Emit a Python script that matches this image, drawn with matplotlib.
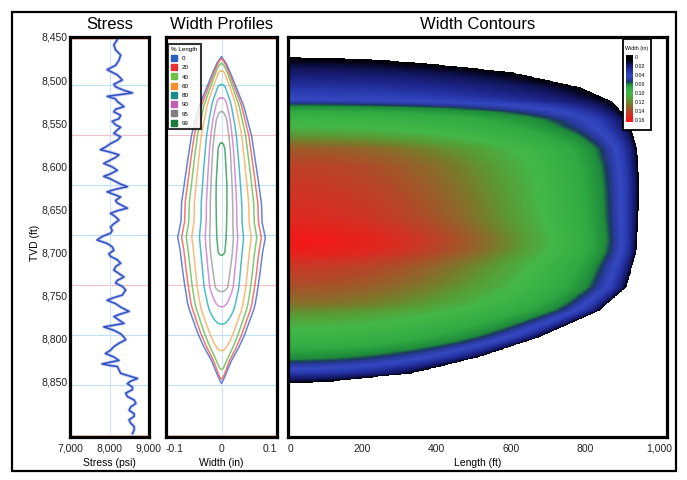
import numpy as np
import matplotlib
matplotlib.use('Agg')
import matplotlib.pyplot as plt
from matplotlib.colors import LinearSegmentedColormap
from matplotlib.patches import Rectangle
from matplotlib.lines import Line2D

plt.rcParams['font.family'] = ['Liberation Sans', 'DejaVu Sans']

# ---------------- data ----------------
depth_ticks = [8450, 8500, 8550, 8600, 8650, 8700, 8750, 8800, 8850]
depth_labels = ['8,450', '8,500', '8,550', '8,600', '8,650', '8,700', '8,750', '8,800', '8,850']

stress_ticks = [7000, 8000, 9000]
stress_labels = ['7,000', '8,000', '9,000']
width_ticks = [-0.1, 0, 0.1]
width_labels = ['-0.1', '0', '0.1']
length_ticks = [0, 200, 400, 600, 800, 1000]
length_labels = ['0', '200', '400', '600', '800', '1,000']

stress_depth = [8453, 8459, 8465, 8471, 8477, 8483, 8488, 8494, 8500, 8505, 8508, 8512, 8515, 8519,
                8522, 8525, 8528, 8531, 8534, 8537, 8541, 8545, 8548, 8552, 8555, 8558, 8562, 8566,
                8570, 8574, 8578, 8581, 8584, 8587, 8590, 8593, 8597, 8601, 8605, 8609, 8612, 8615,
                8618, 8621, 8624, 8627, 8630, 8633, 8636, 8640, 8643, 8646, 8649, 8652, 8655, 8659,
                8663, 8667, 8671, 8675, 8678, 8682, 8686, 8690, 8694, 8698, 8702, 8705, 8709, 8713,
                8717, 8721, 8725, 8729, 8733, 8736, 8740, 8744, 8747, 8750, 8753, 8756, 8760, 8764,
                8767, 8769, 8772, 8775, 8779, 8783, 8785, 8787, 8791, 8795, 8799, 8802, 8806, 8810,
                8814, 8818, 8822, 8826, 8828, 8830, 8832, 8833, 8837, 8841, 8844, 8847, 8850, 8853,
                8857, 8860, 8864, 8868, 8872, 8876, 8880, 8884, 8888, 8891, 8895, 8899, 8903, 8907, 8911]
stress_psi = [8197, 8111, 8154, 8282, 8240, 8154, 7940, 8197, 8325, 8111, 8154, 8367, 8581, 7940,
              8154, 8197, 8282, 8367, 8154, 8111, 8282, 8240, 8069, 8154, 8282, 8197, 8111, 8282,
              8197, 8026, 7897, 7769, 8026, 8240, 8154, 8026, 7855, 8069, 8197, 8026, 7855, 8026,
              8154, 8282, 8453, 8154, 7940, 8111, 8282, 8154, 8197, 8325, 8453, 8197, 8026, 8154,
              8240, 8111, 8026, 8069, 8026, 7812, 7684, 7940, 8069, 8111, 7983, 8026, 8197, 8282,
              8154, 8111, 8240, 8367, 8197, 8154, 8325, 8410, 8367, 8325, 8111, 7940, 8154, 8282,
              8410, 8496, 8282, 8111, 8240, 8367, 8111, 7855, 8111, 8282, 8367, 8410, 8240, 8111,
              8026, 7897, 8111, 8240, 8026, 7812, 8026, 8197, 8240, 8282, 8496, 8709, 8538, 8453,
              8581, 8581, 8410, 8453, 8624, 8667, 8538, 8496, 8624, 8624, 8496, 8538, 8624, 8624, 8581]

# fracture half-length (ft) versus depth
frac_depth = [8473, 8474, 8476, 8479, 8485, 8491, 8500, 8508, 8525, 8547, 8580, 8620, 8660,
              8700, 8741, 8768, 8799, 8822, 8841, 8851, 8853]
frac_length = [0, 120, 230, 336, 480, 605, 700, 785, 874, 919, 940, 945, 943,
               938, 911, 839, 677, 516, 336, 113, 0]

# width at the wellbore (in) versus depth, for the contour panel
wc_depth = [8473, 8477, 8482, 8490, 8500, 8510, 8518, 8524, 8529, 8536, 8545, 8555, 8566, 8580,
            8600, 8630, 8660, 8686, 8700, 8715, 8740, 8760, 8773, 8790, 8805, 8818, 8826, 8833,
            8840, 8846, 8850, 8853]
wc_width = [0.0, 0.006, 0.012, 0.018, 0.025, 0.032, 0.038, 0.045, 0.058, 0.075, 0.092, 0.102,
            0.118, 0.135, 0.143, 0.148, 0.152, 0.160, 0.157, 0.147, 0.138, 0.128, 0.115, 0.100,
            0.085, 0.068, 0.058, 0.047, 0.035, 0.022, 0.012, 0.0]

# outer (0 % length) width profile half-width (in) versus depth
prof_depth = [8473, 8480, 8490, 8506, 8530, 8564, 8602, 8643, 8665, 8683, 8700, 8722, 8740,
              8760, 8767, 8794, 8810, 8826, 8845, 8853]
prof_halfwidth = [0, 0.008, 0.015, 0.025, 0.040, 0.054, 0.063, 0.072, 0.073, 0.079, 0.074,
                  0.070, 0.066, 0.061, 0.058, 0.043, 0.032, 0.018, 0.006, 0]

pct_levels = [0, 20, 40, 60, 80, 90, 95, 99]
pct_line_colors = ['#4a6fd0', '#f0605a', '#6cc05a', '#f8b060', '#30b0c0', '#d080d0', '#a0a0a0', '#3a9a5a']
pct_legend_colors = ['#2a5fc0', '#e83030', '#6cc04a', '#f5902a', '#1a8a8a', '#c060b0', '#808080', '#1a7a40']

cbar_labels = [0, 0.02, 0.04, 0.06, 0.10, 0.12, 0.14, 0.16]
cbar_ticklabels = ['0', '0.02', '0.04', '0.06', '0.10', '0.12', '0.14', '0.16']

cmap_values = [0.0, 0.008, 0.016, 0.026, 0.034, 0.042, 0.050, 0.055, 0.060, 0.075, 0.100,
               0.115, 0.125, 0.140, 0.150, 0.160]
cmap_colors = ['#000000', '#04041a', '#12165e', '#1f2890', '#2a3cb0', '#3448c0', '#2a3aa0',
               '#1a3a60', '#1e8a3a', '#30aa42', '#43b848', '#5a9a35', '#7a7a2c', '#b04a28',
               '#d63024', '#f21818']

grid_blue_depths = [8506, 8622, 8680, 8796, 8855]
grid_pink_depths = [8564, 8738]

# ---------------- figure ----------------
W, H = 687, 480
fig = plt.figure(figsize=(W / 100, H / 100), dpi=100)

def fax(x0, x1, y0=37, y1=437):
    return fig.add_axes([x0 / W, 1 - y1 / H, (x1 - x0) / W, (y1 - y0) / H])

ymin, ymax = 8450, 8915
axS = fax(70, 149)
axP = fax(166, 277)
axC = fax(288, 667)

cmap = LinearSegmentedColormap.from_list('width', list(zip(np.array(cmap_values) / 0.16, cmap_colors)))
cmap.set_bad('white')

for ax in (axS, axP, axC):
    ax.set_ylim(ymax, ymin)
    for s in ax.spines.values():
        s.set_linewidth(2.3)
        s.set_color('black')
    ax.tick_params(length=0, labelsize=7.5, pad=5, labelcolor='#222222')
    for d in grid_blue_depths:
        ax.axhline(d, color='#bfe0f0', lw=0.8, zorder=0.5)
    for d in grid_pink_depths:
        ax.axhline(d, color='#f0c0c8', lw=0.8, zorder=0.5)
    ax.add_patch(Rectangle((0.012, 0.006), 0.976, 0.988, transform=ax.transAxes, fill=False,
                           ec='#f3c8b8', lw=0.7, zorder=0.6))

# --- Stress ---
axS.plot(stress_psi, stress_depth, color='#a8b4ea', lw=2.4, alpha=0.7)
axS.plot(stress_psi, stress_depth, color='#3050c0', lw=1.1)
axS.set_xlim(7000, 9000)
axS.axvline(8000, color='#cfe6f2', lw=0.8, zorder=0.5)
axS.set_xticks(stress_ticks)
axS.set_xticklabels(stress_labels)
axS.set_yticks(depth_ticks)
axS.set_yticklabels(depth_labels)
axS.tick_params(axis='y', pad=1.5)
axS.set_title('Stress', fontsize=12, pad=6)
axS.set_xlabel('Stress (psi)', fontsize=7.5, labelpad=3)
fig.text(35 / W, 1 - 243 / H, 'TVD (ft)', rotation=90, fontsize=7.5, ha='center', va='center')

# --- Width profiles ---
zz = np.linspace(8470, 8856, 1500)
Lz = np.interp(zz, frac_depth, frac_length, left=0, right=0)
hw0 = np.interp(zz, prof_depth, prof_halfwidth, left=0, right=0)
Lmax = max(frac_length)
for p, c in zip(pct_levels, pct_line_colors):
    Lp = p / 100 * Lmax
    valid = (Lz > Lp) & (hw0 > 0)
    z_v = zz[valid]
    hw = hw0[valid] * np.clip(1 - Lp / Lz[valid], 0, None) ** 0.42
    xs = np.r_[0, hw, 0, -hw[::-1], 0]
    ys = np.r_[z_v[0], z_v, z_v[-1], z_v[::-1], z_v[0]]
    axP.plot(xs, ys, color=c, lw=1.1, alpha=0.85)
axP.set_xlim(-0.1, 0.1)
axP.axvline(0, color='#cfe6f2', lw=0.8, zorder=0.5)
axP.set_xticks(width_ticks)
labs = axP.set_xticklabels(width_labels)
labs[0].set_ha('left')
labs[-1].set_ha('right')
axP.set_yticks([])
axP.set_title('Width Profiles', fontsize=12, pad=6)
axP.set_xlabel('Width (in)', fontsize=7.5, labelpad=3)
handles = [Line2D([], [], ls='', marker='s', markersize=4.5, color=c, label=str(p))
           for p, c in zip(pct_levels, pct_legend_colors)]
leg = axP.legend(handles=handles, title='% Length', loc='upper left', bbox_to_anchor=(0.018, 0.983),
                 borderaxespad=0, fontsize=4.5, title_fontsize=4.5, frameon=True, fancybox=False,
                 handlelength=0.8, handletextpad=0.9, labelspacing=0.62, borderpad=0.5)
leg.get_frame().set_edgecolor('black')
leg.get_frame().set_linewidth(1.5)
leg._legend_box.align = 'left'

# --- Width contours ---
xg = np.linspace(0, 1020, 800)
zg = np.linspace(ymin, ymax, 700)
Lg = np.interp(zg, frac_depth, frac_length, left=0, right=0)
Wg = np.interp(zg, wc_depth, wc_width, left=0, right=0)
r = xg[None, :] / np.maximum(Lg[:, None], 1e-9)
field = Wg[:, None] * np.clip(1 - r ** 2, 0, None) ** 0.55
field = np.where(r < 1, field, np.nan)
axC.imshow(field, extent=[0, 1020, ymax, ymin], aspect='auto', cmap=cmap, vmin=0, vmax=0.16,
           interpolation='nearest', zorder=1)
axC.set_xlim(0, 1020)
axC.set_ylim(ymax, ymin)
for xv in length_ticks[1:-1]:
    axC.axvline(xv, color='#cfe6f2', lw=0.8, zorder=0.5)
axC.set_xticks(length_ticks)
labs = axC.set_xticklabels(length_labels)
labs[0].set_ha('left')
axC.set_yticks([])
axC.set_title('Width Contours', fontsize=12, pad=6)
axC.set_xlabel('Length (ft)', fontsize=7.5, labelpad=3)

# colour legend
axC.add_patch(Rectangle((0.884, 0.7675), 0.074, 0.2275, transform=axC.transAxes, fc='white',
                        ec='black', lw=1.3, zorder=5))
axC.text(0.921, 0.972, 'Width (in)', transform=axC.transAxes, fontsize=3.8, ha='center',
         va='center', zorder=7)
cax = axC.inset_axes([0.892, 0.7875, 0.018, 0.1675], zorder=6)
t = np.linspace(-0.25, 7.25, 300)
vals = np.interp(t, np.arange(len(cbar_labels)), cbar_labels)
cax.imshow(vals[:, None], aspect='auto', cmap=cmap, vmin=0, vmax=0.16,
           extent=[0, 1, 7.25, -0.25], interpolation='bilinear')
cax.set_ylim(7.25, -0.25)
cax.set_xticks([])
cax.set_yticks(np.arange(len(cbar_labels)))
cax.set_yticklabels(cbar_ticklabels)
cax.yaxis.tick_right()
cax.tick_params(length=0, labelsize=3.8, pad=1.5)
for s in cax.spines.values():
    s.set_visible(False)

# outer frame
fig.add_artist(Rectangle((12 / W, 1 - 471 / H), 664 / W, 459 / H, transform=fig.transFigure,
                         fill=False, ec='black', lw=1.6))

fig.savefig('out.png', dpi=100)
